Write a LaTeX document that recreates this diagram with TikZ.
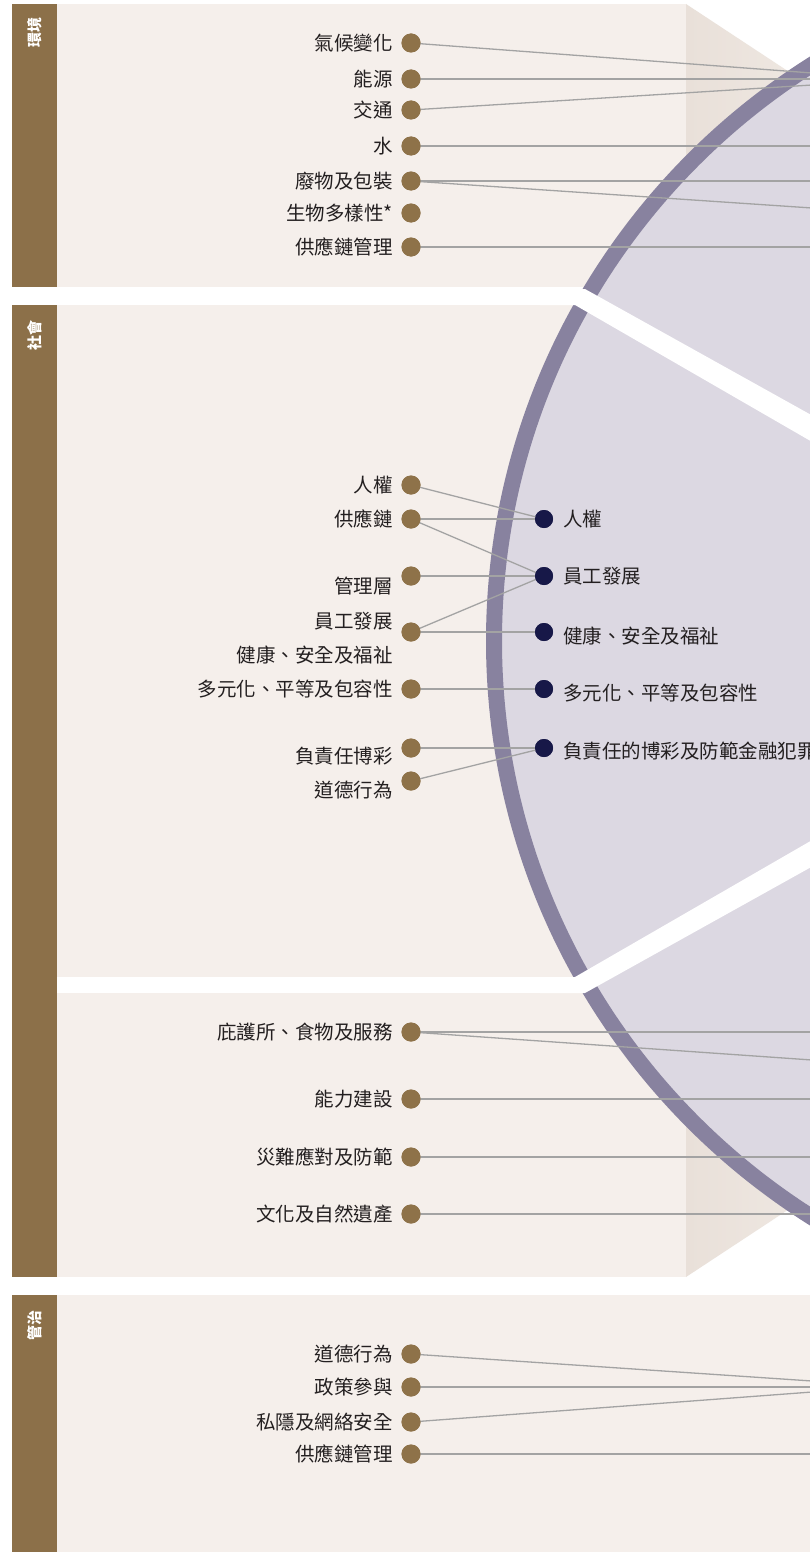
\documentclass[tikz,border=0pt]{standalone}
\usepackage{fontspec}
\setmainfont{Noto Sans CJK TC}
\definecolor{bar}{HTML}{8C7049}
\definecolor{panel}{HTML}{F5EFEB}
\definecolor{wedgeA}{HTML}{E9E0D9}
\definecolor{wedgeB}{HTML}{EFE8E2}
\definecolor{ring}{HTML}{88829F}
\definecolor{disc}{HTML}{DCD8E2}
\definecolor{conn}{HTML}{A3A3A3}
\definecolor{bdot}{HTML}{8E7249}
\definecolor{ndot}{HTML}{171848}
\definecolor{txt}{HTML}{231F20}
\begin{document}
\begin{tikzpicture}[x=1pt,y=-1pt,
  lbl/.style={anchor=east, inner sep=0pt, text=txt, font=\fontsize{19.5}{20}\selectfont, text height=17.2pt, text depth=2.3pt},
  rlbl/.style={lbl, anchor=west},
  bd/.style={circle, fill=bdot, minimum size=19pt, inner sep=0pt},
  nd/.style={circle, fill=ndot, minimum size=18pt, inner sep=0pt},
  cn/.style={draw=conn, line width=1.3pt},
  vlab/.style={rotate=90, anchor=east, inner sep=0pt, text=white, font=\bfseries\fontsize{15}{15}\selectfont}]
\useasboundingbox (0,0) rectangle (810,1552);
\fill[white] (0,0) rectangle (810,1552);
% panels
\fill[panel] (57,4) rectangle (686,287);
\shade[left color=wedgeA, right color=wedgeB] (686,4) -- (812,87) -- (812,287) -- (686,287) -- cycle;
\fill[panel] (57,305) rectangle (812,977);
\fill[panel] (57,993) rectangle (686,1277);
\shade[left color=wedgeA, right color=wedgeB] (686,1277) -- (812,1194) -- (812,993) -- (686,993) -- cycle;
\fill[panel] (57,1295) rectangle (812,1553);
% brown bars
\fill[bar] (12,4) rectangle (57,287);
\fill[bar] (12,305) rectangle (57,1277);
\fill[bar] (12,1295) rectangle (57,1553);
\node[vlab] (envt) at (34.5,17) {環境};
\node[vlab] (soct) at (34.5,320) {社會};
\node[vlab] (govt) at (34.5,1310) {管治};
% circle
\coordinate (cc) at (1175,641);
\draw[ring, fill=disc, line width=16pt] (cc) circle[radius=681pt];
% white stripes
\fill[white] (540,289) -- (585,289) -- (840,431) -- (840,458) -- (575,305) -- (540,305) -- cycle;
\fill[white] (540,993) -- (585,993) -- (840,851) -- (840,824) -- (575,977) -- (540,977) -- cycle;
% connector end coordinates
\coordinate (x1) at (812,73);
\coordinate (x2) at (812,79);
\coordinate (x3) at (812,85);
\coordinate (x4) at (812,146);
\coordinate (x5) at (812,181);
\coordinate (x6) at (812,208);
\coordinate (x7) at (812,247);
\coordinate (c1) at (812,1032);
\coordinate (c2) at (812,1060);
\coordinate (c3) at (812,1099);
\coordinate (c4) at (812,1157);
\coordinate (c5) at (812,1214);
\coordinate (g1) at (812,1381);
\coordinate (g2) at (812,1387);
\coordinate (g3) at (812,1392);
\coordinate (g4) at (812,1454);
% dots env
\node[bd] (e1) at (411,43) {};
\node[bd] (e2) at (411,79) {};
\node[bd] (e3) at (411,110) {};
\node[bd] (e4) at (411,146) {};
\node[bd] (e5) at (411,181) {};
\node[bd] (e6) at (411,213) {};
\node[bd] (e7) at (411,247) {};
% dots social left
\node[bd] (s1) at (411,485) {};
\node[bd] (s2) at (411,519) {};
\node[bd] (s3) at (411,576) {};
\node[bd] (s4) at (411,632) {};
\node[bd] (s5) at (411,689) {};
\node[bd] (s6) at (411,748) {};
\node[bd] (s7) at (411,781) {};
% dots social right
\node[nd] (r1) at (544,519) {};
\node[nd] (r2) at (544,576) {};
\node[nd] (r3) at (544,632) {};
\node[nd] (r4) at (544,689) {};
\node[nd] (r5) at (544,748) {};
% dots community
\node[bd] (m1) at (411,1032) {};
\node[bd] (m2) at (411,1099) {};
\node[bd] (m3) at (411,1157) {};
\node[bd] (m4) at (411,1214) {};
% dots governance
\node[bd] (q1) at (411,1354) {};
\node[bd] (q2) at (411,1387) {};
\node[bd] (q3) at (411,1422) {};
\node[bd] (q4) at (411,1454) {};
% connectors (behind dots)
\begin{scope}[on background layer/.try]
\end{scope}
\draw[cn] (e1.center) -- (x1);
\draw[cn] (e2.center) -- (x2);
\draw[cn] (e3.center) -- (x3);
\draw[cn] (e4.center) -- (x4);
\draw[cn] (e5.center) -- (x5);
\draw[cn] (e5.center) -- (x6);
\draw[cn] (e7.center) -- (x7);
\draw[cn] (s1.center) -- (r1.center);
\draw[cn] (s2.center) -- (r1.center);
\draw[cn] (s2.center) -- (r2.center);
\draw[cn] (s3.center) -- (r2.center);
\draw[cn] (s4.center) -- (r2.center);
\draw[cn] (s4.center) -- (r3.center);
\draw[cn] (s5.center) -- (r4.center);
\draw[cn] (s6.center) -- (r5.center);
\draw[cn] (s7.center) -- (r5.center);
\draw[cn] (m1.center) -- (c1);
\draw[cn] (m1.center) -- (c2);
\draw[cn] (m2.center) -- (c3);
\draw[cn] (m3.center) -- (c4);
\draw[cn] (m4.center) -- (c5);
\draw[cn] (q1.center) -- (g1);
\draw[cn] (q2.center) -- (g2);
\draw[cn] (q3.center) -- (g3);
\draw[cn] (q4.center) -- (g4);
% redraw dots on top
\foreach \n in {e1,e2,e3,e4,e5,e6,e7,s1,s2,s3,s4,s5,s6,s7,m1,m2,m3,m4,q1,q2,q3,q4}
  \fill[bdot] (\n.center) circle[radius=9.5pt];
\foreach \n in {r1,r2,r3,r4,r5}
  \fill[ndot] (\n.center) circle[radius=9pt];
% labels env
\node[lbl] (le1) at (393,43) {氣候變化};
\node[lbl] (le2) at (393,79) {能源};
\node[lbl] (le3) at (393,110) {交通};
\node[lbl] (le4) at (393,146) {水};
\node[lbl] (le5) at (393,181) {廢物及包裝};
\node[lbl] (le6) at (393,213) {生物多樣性*};
\node[lbl] (le7) at (393,247) {供應鏈管理};
% labels social left
\node[lbl] (ls1) at (393,485) {人權};
\node[lbl] (ls2) at (393,519) {供應鏈};
\node[lbl] (ls3) at (393,586) {管理層};
\node[lbl] (ls4) at (393,621) {員工發展};
\node[lbl] (ls4b) at (393,655) {健康、安全及福祉};
\node[lbl] (ls5) at (393,689) {多元化、平等及包容性};
\node[lbl] (ls6) at (393,756) {負責任博彩};
\node[lbl] (ls7) at (393,790) {道德行為};
% labels social right
\node[rlbl] (lr1) at (563,519) {人權};
\node[rlbl] (lr2) at (563,576) {員工發展};
\node[rlbl] (lr3) at (563,636) {健康、安全及福祉};
\node[rlbl] (lr4) at (563,693) {多元化、平等及包容性};
\node[rlbl] (lr5) at (563,751) {負責任的博彩及防範金融犯罪};
% labels community
\node[lbl] (lm1) at (393,1032) {庇護所、食物及服務};
\node[lbl] (lm2) at (393,1099) {能力建設};
\node[lbl] (lm3) at (393,1157) {災難應對及防範};
\node[lbl] (lm4) at (393,1214) {文化及自然遺產};
% labels governance
\node[lbl] (lq1) at (393,1354) {道德行為};
\node[lbl] (lq2) at (393,1387) {政策參與};
\node[lbl] (lq3) at (393,1422) {私隱及網絡安全};
\node[lbl] (lq4) at (393,1454) {供應鏈管理};
\end{tikzpicture}
\end{document}
